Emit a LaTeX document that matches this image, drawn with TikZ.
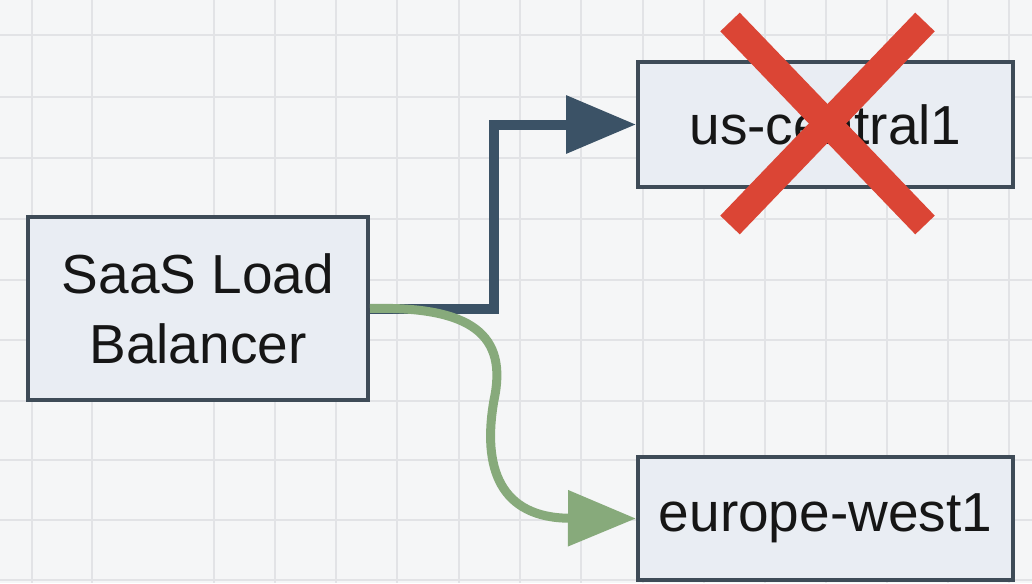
\documentclass[tikz,border=0pt]{standalone}
\usepackage{fontspec}
\setmainfont{Liberation Sans}
\usetikzlibrary{arrows.meta}
\definecolor{bgc}{HTML}{F5F6F7}
\definecolor{gridc}{HTML}{E2E3E6}
\definecolor{boxfill}{HTML}{E9EDF3}
\definecolor{boxline}{HTML}{3E4B57}
\definecolor{bluec}{HTML}{3B5266}
\definecolor{greenc}{HTML}{87AA7B}
\definecolor{redc}{HTML}{DB4535}
\definecolor{txt}{HTML}{161616}
\tikzset{
  box/.style={draw=boxline, line width=4pt, fill=boxfill, text=txt, inner sep=0pt,
    font=\fontsize{55}{70}\selectfont, align=center},
  blueconn/.style={draw=bluec, line width=10pt, line join=miter,
    -{Triangle[length=70pt,width=56pt]}},
  greenconn/.style={draw=greenc, line width=9pt,
    -{Triangle[length=68pt,width=54pt]}},
  crossbar/.style={draw=redc, line width=27pt, line cap=butt},
  gridline/.style={draw=gridc, line width=2pt}
}
\begin{document}
\begin{tikzpicture}[x=1pt,y=-1pt]
\useasboundingbox (0,0) rectangle (1032,583);
\fill[bgc] (0,0) rectangle (1032,583);
\foreach \gx in {32,92,214,275,336,397,459,520,581,643,704,765,826,887,948,1009}
  \draw[gridline] (\gx,0) -- (\gx,583);
\foreach \gy in {35,97,158,219,280,340,401,460,520,580}
  \draw[gridline] (0,\gy) -- (1032,\gy);

\node[box, minimum width=340pt, minimum height=183pt] (lb) at (198,308.5) {SaaS Load\\Balancer};
\node[box, minimum width=375pt, minimum height=125pt] (us) at (825.5,124.5) {us-central1};
\node[box, minimum width=375pt, minimum height=123pt] (eu) at (825.5,518.5) {europe-west1};

\draw[blueconn] (lb.east) -- ++(124,0) |- (us.west);
\draw[greenconn] (lb.east) .. controls (472,306) and (508,335) .. (494,400)
  .. controls (482,468) and (500,518) .. (eu.west);

\draw[crossbar] (730,22) -- (925,225);
\draw[crossbar] (925,22) -- (730,225);
\end{tikzpicture}
\end{document}
